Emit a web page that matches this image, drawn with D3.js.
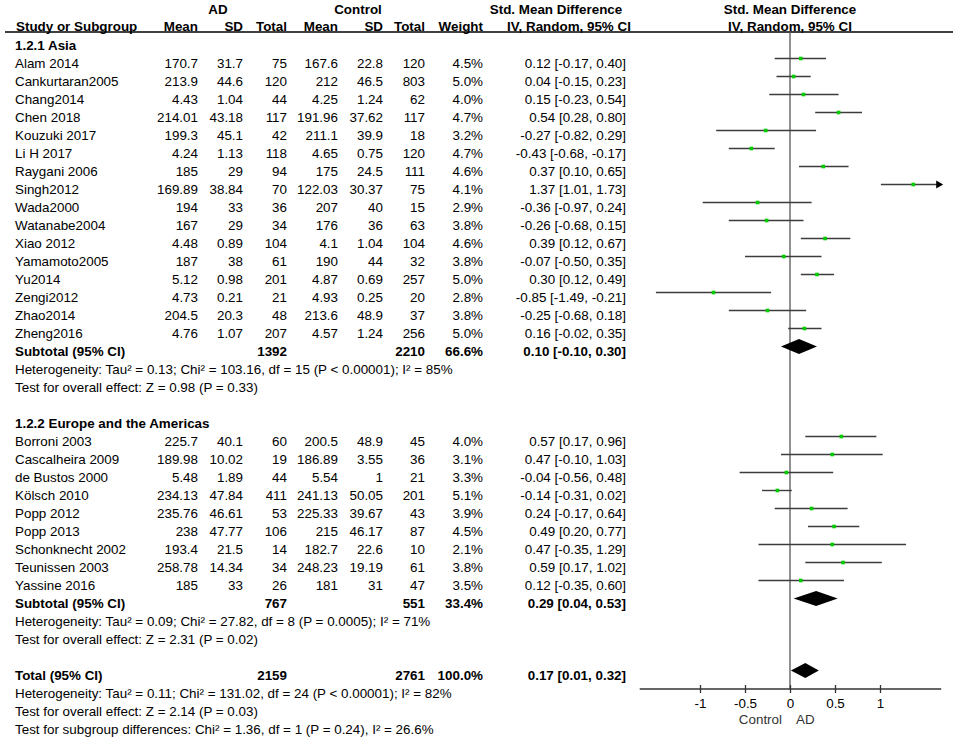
<!DOCTYPE html>
<html>
<head>
<meta charset="utf-8">
<script src="https://cdn.jsdelivr.net/npm/d3@7"></script>
<style>
  body { margin: 0; background: #fff; }
  text { font-family: "Liberation Sans", Arial, sans-serif; font-size: 13.4px; fill: #000; }
</style>
</head>
<body>
<div id="chart"></div>
<script>
// study, AD mean, AD SD, AD total, Control mean, Control SD, Control total, weight %, SMD, lower, upper
const asiaStudies = [
  ["Alam 2014", 170.7, 31.7, 75, 167.6, 22.8, 120, 4.5, 0.12, -0.17, 0.40],
  ["Cankurtaran2005", 213.9, 44.6, 120, 212, 46.5, 803, 5.0, 0.04, -0.15, 0.23],
  ["Chang2014", 4.43, 1.04, 44, 4.25, 1.24, 62, 4.0, 0.15, -0.23, 0.54],
  ["Chen 2018", 214.01, 43.18, 117, 191.96, 37.62, 117, 4.7, 0.54, 0.28, 0.80],
  ["Kouzuki 2017", 199.3, 45.1, 42, 211.1, 39.9, 18, 3.2, -0.27, -0.82, 0.29],
  ["Li H 2017", 4.24, 1.13, 118, 4.65, 0.75, 120, 4.7, -0.43, -0.68, -0.17],
  ["Raygani 2006", 185, 29, 94, 175, 24.5, 111, 4.6, 0.37, 0.10, 0.65],
  ["Singh2012", 169.89, 38.84, 70, 122.03, 30.37, 75, 4.1, 1.37, 1.01, 1.73],
  ["Wada2000", 194, 33, 36, 207, 40, 15, 2.9, -0.36, -0.97, 0.24],
  ["Watanabe2004", 167, 29, 34, 176, 36, 63, 3.8, -0.26, -0.68, 0.15],
  ["Xiao 2012", 4.48, 0.89, 104, 4.1, 1.04, 104, 4.6, 0.39, 0.12, 0.67],
  ["Yamamoto2005", 187, 38, 61, 190, 44, 32, 3.8, -0.07, -0.50, 0.35],
  ["Yu2014", 5.12, 0.98, 201, 4.87, 0.69, 257, 5.0, 0.30, 0.12, 0.49],
  ["Zengi2012", 4.73, 0.21, 21, 4.93, 0.25, 20, 2.8, -0.85, -1.49, -0.21],
  ["Zhao2014", 204.5, 20.3, 48, 213.6, 48.9, 37, 3.8, -0.25, -0.68, 0.18],
  ["Zheng2016", 4.76, 1.07, 207, 4.57, 1.24, 256, 5.0, 0.16, -0.02, 0.35]
];

const europeStudies = [
  ["Borroni 2003", 225.7, 40.1, 60, 200.5, 48.9, 45, 4.0, 0.57, 0.17, 0.96],
  ["Cascalheira 2009", 189.98, 10.02, 19, 186.89, 3.55, 36, 3.1, 0.47, -0.10, 1.03],
  ["de Bustos 2000", 5.48, 1.89, 44, 5.54, 1, 21, 3.3, -0.04, -0.56, 0.48],
  ["Kölsch 2010", 234.13, 47.84, 411, 241.13, 50.05, 201, 5.1, -0.14, -0.31, 0.02],
  ["Popp 2012", 235.76, 46.61, 53, 225.33, 39.67, 43, 3.9, 0.24, -0.17, 0.64],
  ["Popp 2013", 238, 47.77, 106, 215, 46.17, 87, 4.5, 0.49, 0.20, 0.77],
  ["Schonknecht 2002", 193.4, 21.5, 14, 182.7, 22.6, 10, 2.1, 0.47, -0.35, 1.29],
  ["Teunissen 2003", 258.78, 14.34, 34, 248.23, 19.19, 61, 3.8, 0.59, 0.17, 1.02],
  ["Yassine 2016", 185, 33, 26, 181, 31, 47, 3.5, 0.12, -0.35, 0.60]
];

// label, AD total, Control total, weight %, SMD, lower, upper
const asiaSubtotal = ["Subtotal (95% CI)", 1392, 2210, 66.6, 0.10, -0.10, 0.30];
const europeSubtotal = ["Subtotal (95% CI)", 767, 551, 33.4, 0.29, 0.04, 0.53];
const overallTotal = ["Total (95% CI)", 2159, 2761, 100.0, 0.17, 0.01, 0.32];

const groupTitles = ["1.2.1 Asia", "1.2.2 Europe and the Americas"];
const asiaNotes = [
  "Heterogeneity: Tau² = 0.13; Chi² = 103.16, df = 15 (P < 0.00001); I² = 85%",
  "Test for overall effect: Z = 0.98 (P = 0.33)"
];
const europeNotes = [
  "Heterogeneity: Tau² = 0.09; Chi² = 27.82, df = 8 (P = 0.0005); I² = 71%",
  "Test for overall effect: Z = 2.31 (P = 0.02)"
];
const totalNotes = [
  "Heterogeneity: Tau² = 0.11; Chi² = 131.02, df = 24 (P < 0.00001); I² = 82%",
  "Test for overall effect: Z = 2.14 (P = 0.03)",
  "Test for subgroup differences: Chi² = 1.36, df = 1 (P = 0.24), I² = 26.6%"
];

const headerCols = ["Mean", "SD", "Total", "Mean", "SD", "Total", "Weight"];
const axisTicks = [-1, -0.5, 0, 0.5, 1];
const axisLabels = ["Control", "AD"];
const plotLimits = [-1.67, 1.68];

const width = 957, height = 737;

const svg = d3.select("#chart").append("svg")
  .attr("width", width)
  .attr("height", height)
  .style("display", "block");

// Column right edges for the table
const colX = [198, 243, 287, 338, 383, 425, 483];
const ciTextX = 626;
const leftX = 15;

// Effect scale
const x = d3.scaleLinear().domain([-1, 1]).range([700, 880]);
// Row scale: row centres
const y = d3.scaleLinear().domain([0, 1]).range([45, 63]);

const axisY = 689;
const headerLineY = 32;
const markOffset = -4.5;
const baseOffset = 4.7;

// Build the row list
const rows = [];
function addGroup(title, studies, subtotal, notes) {
  rows.push({ type: "title", text: title });
  studies.forEach(s => rows.push({ type: "study", d: s }));
  rows.push({ type: "sum", d: subtotal });
  notes.forEach(n => rows.push({ type: "note", text: n }));
}
addGroup(groupTitles[0], asiaStudies, asiaSubtotal, asiaNotes);
rows.push({ type: "blank" });
addGroup(groupTitles[1], europeStudies, europeSubtotal, europeNotes);
rows.push({ type: "blank" });
rows.push({ type: "sum", d: overallTotal });
totalNotes.forEach(n => rows.push({ type: "note", text: n }));

const fmt2 = v => v.toFixed(2);
const ciText = (m, lo, hi) => `${fmt2(m)} [${fmt2(lo)}, ${fmt2(hi)}]`;

// Header
const head = svg.append("g").style("font-weight", "bold");
head.append("text").attr("x", 218).attr("y", 13.5).attr("text-anchor", "middle").text("AD");
head.append("text").attr("x", 358).attr("y", 13.5).attr("text-anchor", "middle").text("Control");
head.append("text").attr("x", 556).attr("y", 13.5).attr("text-anchor", "middle").text("Std. Mean Difference");
head.append("text").attr("x", x(0)).attr("y", 13.5).attr("text-anchor", "middle").text("Std. Mean Difference");
head.append("text").attr("x", leftX + 1).attr("y", 30.5).text("Study or Subgroup");
head.selectAll("text.col").data(headerCols).enter().append("text")
  .attr("class", "col")
  .attr("x", (d, i) => colX[i])
  .attr("y", 30.5)
  .attr("text-anchor", "end")
  .text(d => d);
head.append("text").attr("x", 569).attr("y", 30.5).attr("text-anchor", "middle").text("IV, Random, 95% CI");
head.append("text").attr("x", x(0)).attr("y", 30.5).attr("text-anchor", "middle").text("IV, Random, 95% CI");

svg.append("line")
  .attr("x1", 5).attr("x2", 953)
  .attr("y1", headerLineY).attr("y2", headerLineY)
  .attr("stroke", "#000").attr("stroke-width", 1.3);

// Zero line
svg.append("line")
  .attr("x1", x(0)).attr("x2", x(0))
  .attr("y1", headerLineY).attr("y2", axisY)
  .attr("stroke", "#555").attr("stroke-width", 1.3);

// Table body
rows.forEach((r, i) => {
  const yc = y(i);
  const yb = yc + baseOffset;
  if (r.type === "title" || r.type === "note") {
    svg.append("text")
      .attr("x", leftX).attr("y", yb)
      .style("font-weight", r.type === "title" ? "bold" : "normal")
      .text(r.text);
  } else if (r.type === "study") {
    const d = r.d;
    const g = svg.append("g");
    g.append("text").attr("x", leftX).attr("y", yb).text(d[0]);
    g.selectAll("text.num").data(d.slice(1, 7)).enter().append("text")
      .attr("class", "num")
      .attr("x", (v, j) => colX[j])
      .attr("y", yb)
      .attr("text-anchor", "end")
      .text(v => String(v));
    g.append("text").attr("x", colX[6]).attr("y", yb).attr("text-anchor", "end").text(d[7].toFixed(1) + "%");
    g.append("text").attr("x", ciTextX).attr("y", yb).attr("text-anchor", "end").text(ciText(d[8], d[9], d[10]));

    // CI line, clipped to plot limits
    const ym = yc + markOffset;
    const lo = Math.max(d[9], plotLimits[0]);
    const hi = Math.min(d[10], plotLimits[1]);
    g.append("line")
      .attr("x1", x(lo)).attr("x2", x(hi))
      .attr("y1", ym).attr("y2", ym)
      .attr("stroke", "#3c3c3c").attr("stroke-width", 1.4);
    if (d[10] > plotLimits[1]) {
      const xe = x(plotLimits[1]);
      g.append("path")
        .attr("d", `M${xe - 5},${ym - 4} L${xe + 2},${ym} L${xe - 5},${ym + 4} Z`)
        .attr("fill", "#000");
    }
    g.append("rect")
      .attr("x", x(d[8]) - 1.8).attr("y", ym - 1.8)
      .attr("width", 3.6).attr("height", 3.6)
      .attr("fill", "#00cc00");
  } else if (r.type === "sum") {
    const d = r.d;
    const g = svg.append("g").style("font-weight", "bold");
    g.append("text").attr("x", leftX).attr("y", yb).text(d[0]);
    g.append("text").attr("x", colX[2]).attr("y", yb).attr("text-anchor", "end").text(d[1]);
    g.append("text").attr("x", colX[5]).attr("y", yb).attr("text-anchor", "end").text(d[2]);
    g.append("text").attr("x", colX[6]).attr("y", yb).attr("text-anchor", "end").text(d[3].toFixed(1) + "%");
    g.append("text").attr("x", ciTextX).attr("y", yb).attr("text-anchor", "end").text(ciText(d[4], d[5], d[6]));
    const ym = yc + markOffset;
    g.append("path")
      .attr("d", `M${x(d[5])},${ym} L${x(d[4])},${ym - 7.5} L${x(d[6])},${ym} L${x(d[4])},${ym + 7.5} Z`)
      .attr("fill", "#000");
  }
});

// Axis
const axisG = svg.append("g")
  .attr("transform", `translate(0,${axisY})`)
  .call(d3.axisBottom(x).tickValues(axisTicks).tickSize(4).tickPadding(5).tickFormat(d => String(d)));
axisG.select(".domain").remove();
axisG.selectAll(".tick line").attr("y1", -4).attr("stroke", "#333").attr("stroke-width", 1.3);
axisG.selectAll(".tick text")
  .style("font-family", "\"Liberation Sans\", Arial, sans-serif")
  .style("font-size", "13.4px")
  .attr("fill", "#222");
axisG.append("line")
  .attr("x1", x(plotLimits[0])).attr("x2", x(plotLimits[1]))
  .attr("y1", 0).attr("y2", 0)
  .attr("stroke", "#333").attr("stroke-width", 1.3);

// Favours labels
svg.append("text").attr("x", x(0) - 8).attr("y", 723.5).attr("text-anchor", "end").style("fill", "#333").text(axisLabels[0]);
svg.append("text").attr("x", x(0) + 6).attr("y", 723.5).attr("text-anchor", "start").style("fill", "#333").text(axisLabels[1]);
</script>
</body>
</html>
